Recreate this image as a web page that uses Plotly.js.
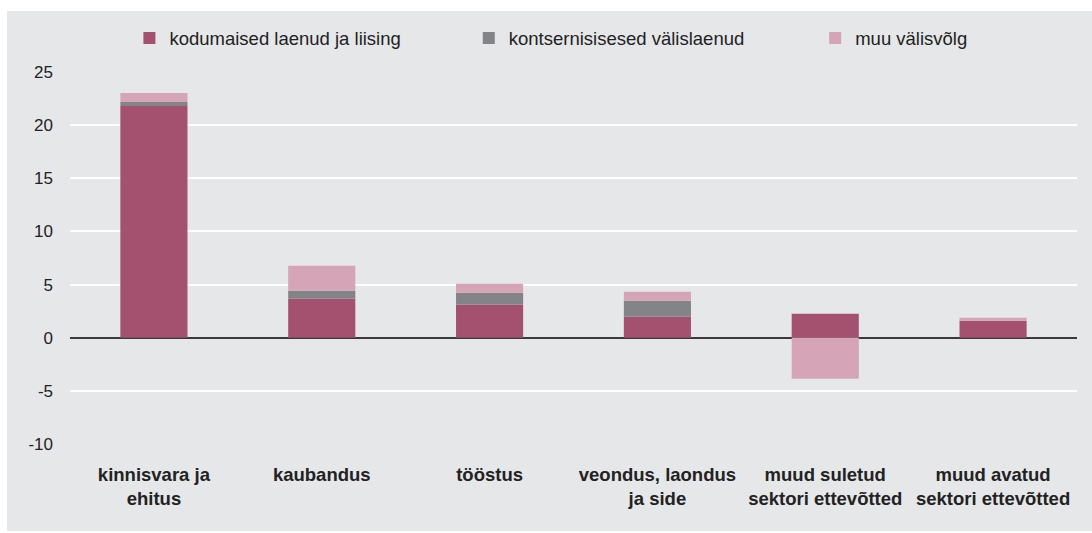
<!DOCTYPE html>
<html>
<head>
<meta charset="utf-8">
<script src="https://cdn.plot.ly/plotly-3.0.1.min.js"></script>
<style>
  html, body { margin: 0; padding: 0; background: #ffffff; width: 1092px; height: 533px; overflow: hidden; }
  #chart { position: absolute; left: 7px; top: 11px; width: 1085px; height: 520px; }
</style>
</head>
<body>
<div id="chart"></div>
<script>
const categories = [
  "kinnisvara ja<br>ehitus",
  "kaubandus",
  "tööstus",
  "veondus, laondus<br>ja side",
  "muud suletud<br>sektori ettevõtted",
  "muud avatud<br>sektori ettevõtted"
];
const seriesNames = ["kodumaised laenud ja liising", "kontsernisisesed välislaenud", "muu välisvõlg"];
const domesticLoans = [21.8, 3.67, 3.1, 1.97, 2.26, 1.6];
const groupLoans = [0.38, 0.75, 1.13, 1.5, 0, 0];
const otherForeign = [0.85, 2.35, 0.85, 0.85, -3.85, 0.28];
const yTicks = [-10, -5, 0, 5, 10, 15, 20, 25];

const colors = ["#a3516f", "#838487", "#d5a4b6"];
const seriesValues = [domesticLoans, groupLoans, otherForeign];
const legends = ["legend", "legend2", "legend3"];

const traces = seriesValues.map((vals, i) => ({
  type: "bar",
  name: seriesNames[i],
  x: categories,
  y: vals,
  marker: { color: colors[i], line: { width: 0 } },
  width: 0.4,
  legend: legends[i],
  hoverinfo: "skip"
}));

const FONT = "Liberation Sans, Arial, Helvetica, sans-serif";

const legendBase = {
  orientation: "h",
  yref: "container",
  y: 0.947,
  yanchor: "middle",
  xanchor: "left",
  bgcolor: "rgba(0,0,0,0)",
  font: { family: FONT, size: 18.5, color: "#222" },
  itemwidth: 30
};

const layout = {
  width: 1085,
  height: 520,
  paper_bgcolor: "#e6e7e9",
  plot_bgcolor: "#e6e7e9",
  margin: { l: 63, r: 15, t: 61, b: 87, autoexpand: false },
  barmode: "relative",
  showlegend: true,
  legend: Object.assign({}, legendBase, { x: 0.059 }),
  legend2: Object.assign({}, legendBase, { x: 0.396 }),
  legend3: Object.assign({}, legendBase, { x: 0.740 }),
  font: { family: FONT, size: 17, color: "#222" },
  xaxis: {
    type: "category",
    showgrid: false,
    zeroline: false,
    showline: false,
    ticks: "",
    automargin: false,
    tickfont: { family: FONT, size: 18.5, color: "#222", weight: "bold" },
    ticklabelstandoff: 17
  },
  yaxis: {
    range: [-10, 25],
    tickvals: yTicks,
    ticktext: yTicks.map(String),
    showgrid: true,
    gridcolor: "#ffffff",
    gridwidth: 2,
    zeroline: true,
    zerolinecolor: "#3a3a3a",
    zerolinewidth: 2,
    showline: false,
    ticks: "",
    automargin: false,
    ticklabelstandoff: 16,
    tickfont: { family: FONT, size: 17, color: "#222" }
  }
};

Plotly.newPlot("chart", traces, layout, { displayModeBar: false, staticPlot: true });
</script>
</body>
</html>
